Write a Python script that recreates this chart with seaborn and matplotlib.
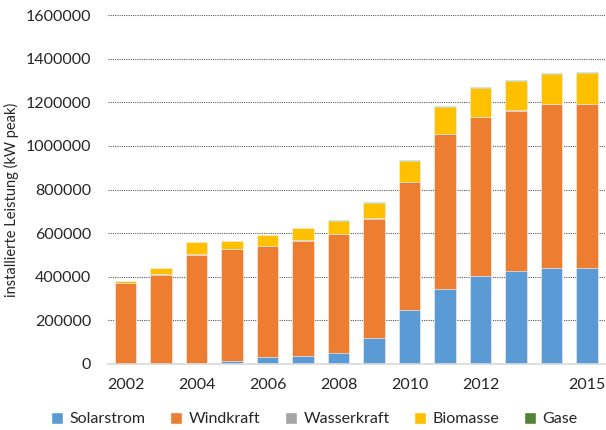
import pandas as pd
import seaborn as sns
import matplotlib.pyplot as plt
from matplotlib.patches import Patch

# Installierte Leistung je Jahr (kW peak)
years = [2002, 2003, 2004, 2005, 2006, 2007, 2008, 2009, 2010, 2011, 2012, 2013, 2014, 2015]
solar = [0, 0, 5000, 15000, 30000, 38000, 52000, 118000, 248000, 345000, 404000, 428000, 442000, 442000]
wind = [372000, 410000, 497000, 513000, 511000, 528000, 544000, 548000, 586000, 709000, 727000, 733000, 750000, 750000]
wasser = [1500, 1500, 1500, 1500, 1500, 1500, 1500, 1500, 1500, 1500, 1500, 1500, 1500, 1500]
biomasse = [6000, 28000, 56000, 35000, 47000, 56000, 59000, 70000, 95000, 124000, 133000, 134000, 138000, 140000]
gase = [0, 0, 0, 1500, 2000, 2000, 2500, 3000, 3000, 3500, 3500, 4000, 4000, 4000]

series = ['Solarstrom', 'Windkraft', 'Wasserkraft', 'Biomasse', 'Gase']
colors = ['#5B9BD5', '#ED7D31', '#A5A5A5', '#FFC000', '#548235']
tick_years = ['2002', '2004', '2006', '2008', '2010', '2012', '2015']

df = pd.DataFrame({'Jahr': [str(y) for y in years], 'Solarstrom': solar, 'Windkraft': wind,
                   'Wasserkraft': wasser, 'Biomasse': biomasse, 'Gase': gase})

# kumulierte Summen fuer gestapelte Balken
cum = df[series].cumsum(axis=1)

sns.set_style("white")
plt.rcParams['font.family'] = ['Lato', 'DejaVu Sans']

fig = plt.figure(figsize=(6.06, 4.30), dpi=100)
ax = fig.add_axes([0.178, 0.1535, 0.82, 0.8115])

# von oben nach unten zeichnen, damit sich die Stapel ergeben
for name, col in reversed(list(zip(series, colors))):
    sns.barplot(x=df['Jahr'], y=cum[name], color=col, width=0.6, ax=ax,
                edgecolor='white', linewidth=0.4, saturation=1)

ax.set_ylim(0, 1600000)
ax.set_xlim(-0.5, 13.5)
ax.set_yticks(range(0, 1600001, 200000))
ax.set_yticklabels([str(v) for v in range(0, 1600001, 200000)])
ax.set_xticks([years.index(int(t)) for t in tick_years])
ax.set_xticklabels(tick_years)
ax.set_xlabel('')
ax.set_ylabel('installierte Leistung (kW peak)', fontsize=10.5, color='#262626')
ax.yaxis.set_label_coords(-0.178, 0.47)

for y in range(200000, 1600001, 200000):
    ax.axhline(y, color='#595959', linestyle=(0, (1, 1)), linewidth=0.8, zorder=0)
ax.set_axisbelow(True)

for s in ['top', 'right', 'left']:
    ax.spines[s].set_visible(False)
ax.spines['bottom'].set_color('#D9D9D9')
ax.spines['bottom'].set_linewidth(1.2)
ax.tick_params(axis='both', length=0, labelsize=11.5, colors='#262626')
ax.tick_params(axis='y', pad=12)
ax.tick_params(axis='x', pad=10)

handles = [Patch(facecolor=c, label=n) for n, c in zip(series, colors)]
fig.legend(handles=handles, loc='lower center', ncol=5, frameon=False,
           bbox_to_anchor=(0.519, -0.025), fontsize=11.5, handlelength=0.75,
           handleheight=0.75, handletextpad=0.4, columnspacing=1.55,
           labelcolor='#262626')

fig.savefig('out.png', dpi=100)
